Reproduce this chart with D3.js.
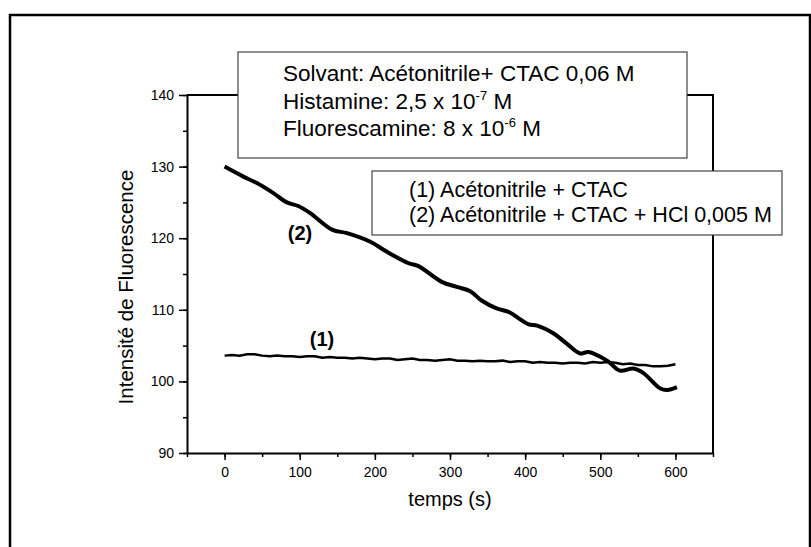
<!DOCTYPE html>
<html>
<head>
<meta charset="utf-8">
<script src="https://cdn.jsdelivr.net/npm/d3@7"></script>
<style>
  body { margin: 0; background: #fff; }
  text { font-family: "Liberation Sans", Arial, sans-serif; fill: #000; }
</style>
</head>
<body>
<svg id="chart" width="811" height="547"></svg>
<script>
// time axis (s)
var xTicks = [0, 100, 200, 300, 400, 500, 600];
var yTicks = [90, 100, 110, 120, 130, 140];

// curve (1) Acetonitrile + CTAC, every 10 s
var t1 = d3.range(0, 601, 10);
var f1 = [103.6, 103.7, 103.6, 103.8, 103.8, 103.6, 103.5, 103.6, 103.5, 103.5,
          103.4, 103.5, 103.5, 103.3, 103.4, 103.3, 103.3, 103.2, 103.3, 103.2,
          103.1, 103.2, 103.2, 103.0, 103.1, 103.2, 103.0, 103.0, 102.9, 103.0,
          103.1, 102.9, 102.9, 102.8, 102.9, 102.8, 102.8, 102.9, 102.7, 102.8,
          102.8, 102.6, 102.7, 102.6, 102.6, 102.5, 102.6, 102.6, 102.5, 102.7,
          102.6, 102.7, 102.6, 102.4, 102.5, 102.3, 102.3, 102.1, 102.1, 102.2,
          102.4];

// curve (2) Acetonitrile + CTAC + HCl
var t2 = [0, 25, 43, 65, 83, 98, 114, 143, 163, 194, 216, 245, 258, 289, 309, 327,
          342, 362, 378, 404, 416, 438, 455, 473, 484, 509, 526, 544, 557, 580, 589, 602];
var f2 = [130.0, 128.6, 127.7, 126.3, 125.0, 124.5, 123.5, 121.2, 120.7, 119.5, 118.1,
          116.5, 116.1, 113.9, 113.2, 112.6, 111.3, 110.2, 109.7, 108.0, 107.8, 106.7,
          105.3, 103.9, 104.1, 102.9, 101.5, 101.8, 101.2, 99.0, 98.8, 99.2];

var infoLines = [
    {text: "Solvant: Acétonitrile+ CTAC 0,06 M", sup: null, tail: ""},
    {text: "Histamine: 2,5 x 10", sup: "-7", tail: " M"},
    {text: "Fluorescamine: 8 x 10", sup: "-6", tail: " M"}
];
var legendLines = ["(1) Acétonitrile + CTAC", "(2) Acétonitrile + CTAC + HCl 0,005 M"];

var svg = d3.select("#chart");

// outer frame
svg.append("rect")
    .attr("x", 10).attr("y", 15)
    .attr("width", 800).attr("height", 560)
    .attr("fill", "none")
    .attr("stroke", "#000")
    .attr("stroke-width", 2.5);

var x = d3.scaleLinear().domain([-50, 650]).range([187, 713]);
var y = d3.scaleLinear().domain([90, 140]).range([453, 95]);

// plot box (top and right sides)
svg.append("path")
    .attr("d", `M${x(-50)},${y(140)}H${x(650)}V${y(90)}`)
    .attr("fill", "none")
    .attr("stroke", "#000")
    .attr("stroke-width", 2);

// x axis, minor then major
svg.append("g")
    .attr("transform", `translate(0,${y(90)})`)
    .call(d3.axisBottom(x).tickValues(d3.range(-50, 651, 50)).tickSize(4).tickFormat(""))
    .call(g => g.select(".domain").remove())
    .selectAll("line").attr("stroke-width", 1.5);

var gx = svg.append("g")
    .attr("transform", `translate(0,${y(90)})`)
    .call(d3.axisBottom(x).tickValues(xTicks).tickSize(7).tickPadding(7).tickSizeOuter(0));
gx.select(".domain").attr("stroke-width", 2);
gx.selectAll("line").attr("stroke-width", 1.5);
gx.selectAll("text").attr("font-size", 14).attr("font-family", "Liberation Sans, Arial");

// y axis
svg.append("g")
    .attr("transform", `translate(${x(-50)},0)`)
    .call(d3.axisLeft(y).tickValues(d3.range(90, 141, 5)).tickSize(4).tickFormat(""))
    .call(g => g.select(".domain").remove())
    .selectAll("line").attr("stroke-width", 1.5);

var gy = svg.append("g")
    .attr("transform", `translate(${x(-50)},0)`)
    .call(d3.axisLeft(y).tickValues(yTicks).tickSize(8).tickPadding(5).tickSizeOuter(0));
gy.select(".domain").attr("stroke-width", 2);
gy.selectAll("line").attr("stroke-width", 1.5);
gy.selectAll("text").attr("font-size", 14).attr("font-family", "Liberation Sans, Arial");

// axis titles
svg.append("text")
    .attr("x", 450).attr("y", 506)
    .attr("text-anchor", "middle")
    .attr("font-size", 20)
    .text("temps (s)");

svg.append("text")
    .attr("transform", "translate(133,287) rotate(-90)")
    .attr("text-anchor", "middle")
    .attr("font-size", 20.5)
    .text("Intensité de Fluorescence");

// curves
var line = d3.line()
    .x(d => x(d[0]))
    .y(d => y(d[1]));

svg.append("path")
    .datum(t1.map((t, i) => [t, f1[i]]))
    .attr("d", line.curve(d3.curveLinear))
    .attr("fill", "none")
    .attr("stroke", "#000")
    .attr("stroke-width", 2.5);

svg.append("path")
    .datum(t2.map((t, i) => [t, f2[i]]))
    .attr("d", line.curve(d3.curveCatmullRom))
    .attr("fill", "none")
    .attr("stroke", "#000")
    .attr("stroke-width", 4)
    .attr("stroke-linejoin", "round");

// curve labels
svg.append("text")
    .attr("x", 300).attr("y", 240)
    .attr("text-anchor", "middle")
    .attr("font-size", 20).attr("font-weight", "bold")
    .text("(2)");

svg.append("text")
    .attr("x", 322).attr("y", 346)
    .attr("text-anchor", "middle")
    .attr("font-size", 20).attr("font-weight", "bold")
    .text("(1)");

// info box
svg.append("rect")
    .attr("x", 238).attr("y", 52)
    .attr("width", 449).attr("height", 106)
    .attr("fill", "#fff")
    .attr("stroke", "#444")
    .attr("stroke-width", 1.2);

infoLines.forEach(function(d, i) {
    var t = svg.append("text")
        .attr("x", 283).attr("y", 81 + i * 27.5)
        .attr("font-size", 22.5);
    t.append("tspan").text(d.text);
    if (d.sup) {
        t.append("tspan").attr("dy", -9).attr("font-size", 13).text(d.sup);
        t.append("tspan").attr("dy", 9).text(d.tail);
    }
});

// legend box
svg.append("rect")
    .attr("x", 372).attr("y", 171)
    .attr("width", 410).attr("height", 64)
    .attr("fill", "#fff")
    .attr("stroke", "#444")
    .attr("stroke-width", 1.2);

legendLines.forEach(function(d, i) {
    svg.append("text")
        .attr("x", 409).attr("y", 197 + i * 25)
        .attr("font-size", 21.5)
        .text(d);
});
</script>
</body>
</html>
